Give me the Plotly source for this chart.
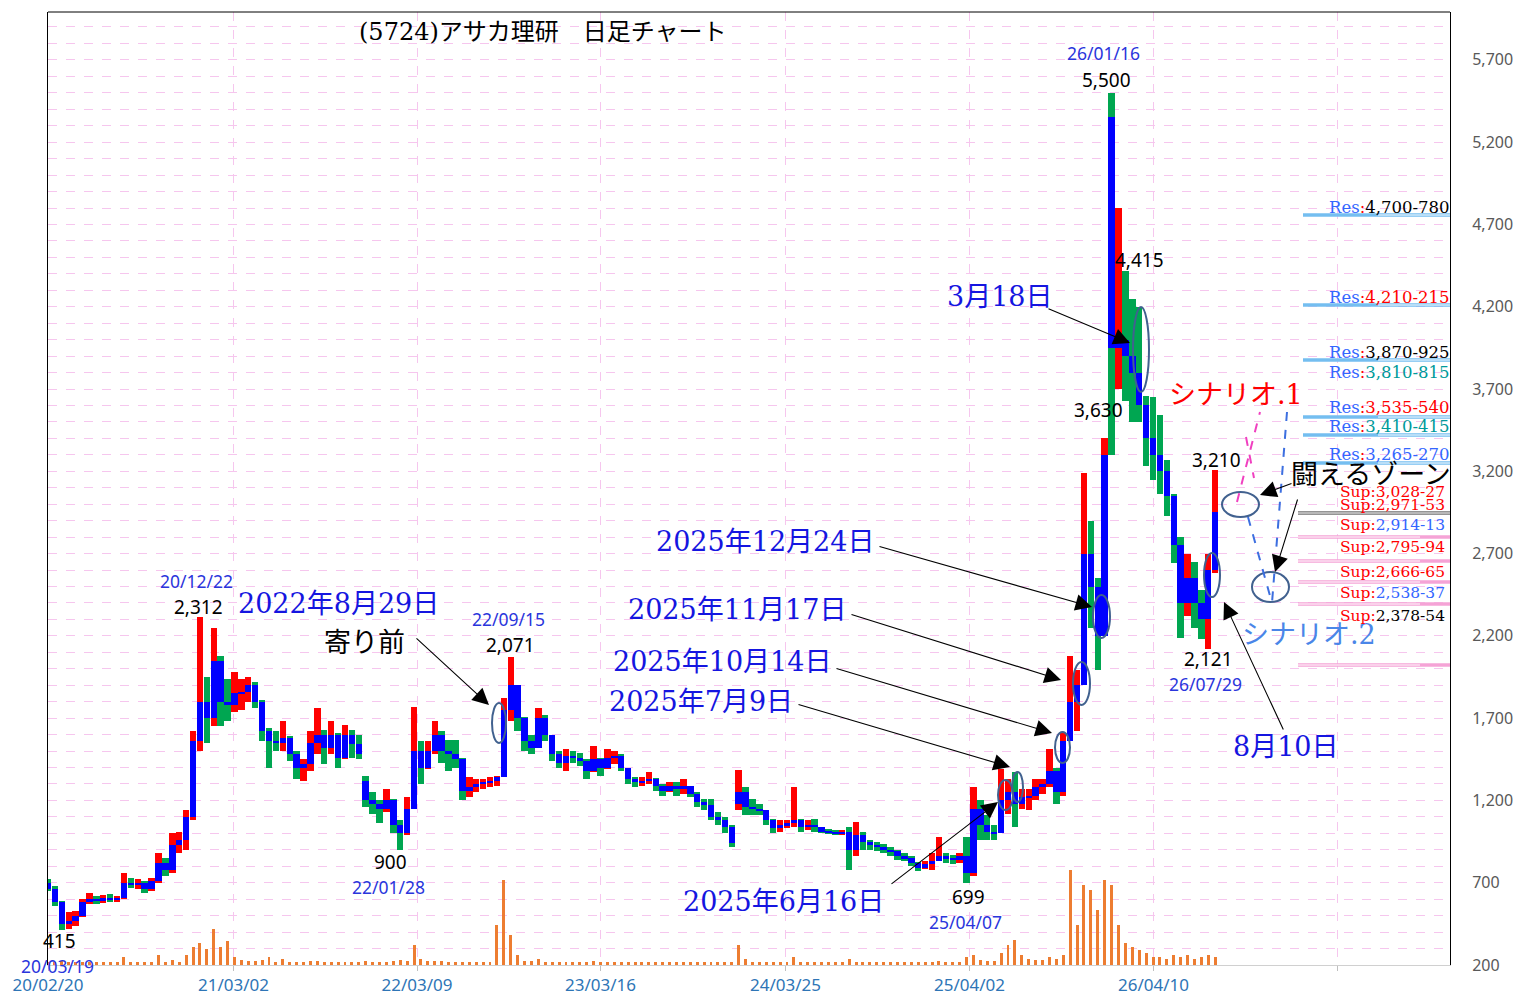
import plotly.graph_objects as go
import pandas as pd

# ---------------- DATA ----------------
start_date = "2020-02-20"          # first candle, one candle every 14 days

opens = [
    700, 660, 580, 450, 470, 500, 580, 600, 590, 605,
    600, 610, 700, 690, 700, 660, 710, 820, 780, 930,
    960, 1100, 1560, 1800, 1700, 2050, 1800, 1780, 1850, 1860,
    1900, 1800, 1620, 1560, 1550, 1580, 1480, 1400, 1420, 1550,
    1600, 1520, 1600, 1460, 1600, 1540, 1320, 1200, 1180, 1150,
    1200, 1050, 1000, 1150, 1500, 1400, 1500, 1600, 1500, 1480,
    1450, 1260, 1280, 1300, 1310, 1320, 1340, 1750, 1900, 1700,
    1560, 1520, 1700, 1600, 1480, 1430, 1470, 1460, 1440, 1380,
    1450, 1400, 1460, 1470, 1400, 1330, 1310, 1320, 1330, 1290,
    1260, 1290, 1270, 1290, 1240, 1190, 1170, 1100, 1080, 1040,
    1180, 1250, 1160, 1150, 1140, 1080, 1030, 1050, 1060, 1080,
    1040, 1050, 1040, 1010, 1005, 1000, 1010, 900, 990, 950,
    930, 920, 900, 890, 860, 850, 820, 790, 815, 830,
    860, 850, 840, 860, 760, 1150, 1050, 1010, 1000, 1200,
    1250, 1180, 1220, 1230, 1280, 1300, 1380, 1250, 1560, 1800,
    1900, 2700, 2500, 2200, 5350, 3950, 4000, 3900, 3800, 3600,
    3400, 3300, 3200, 3050, 2750, 2400, 2550, 2400, 2300, 2600,
]
highs = [
    720, 680, 590, 520, 530, 600, 640, 620, 625, 630,
    620, 760, 730, 720, 710, 730, 880, 850, 1000, 1010,
    1140, 1620, 2312, 1950, 2250, 2080, 1940, 1980, 1940, 1950,
    1920, 1810, 1640, 1620, 1680, 1590, 1500, 1450, 1620, 1760,
    1630, 1680, 1610, 1660, 1630, 1600, 1350, 1250, 1200, 1270,
    1210, 1080, 1220, 1770, 1560, 1560, 1680, 1620, 1570, 1570,
    1460, 1340, 1330, 1330, 1345, 1350, 1820, 2071, 1900, 1710,
    1600, 1760, 1720, 1600, 1500, 1510, 1500, 1490, 1450, 1530,
    1460, 1510, 1500, 1480, 1400, 1345, 1340, 1370, 1335, 1300,
    1310, 1310, 1330, 1290, 1250, 1210, 1210, 1130, 1100, 1050,
    1385, 1280, 1210, 1180, 1140, 1090, 1080, 1080, 1280, 1090,
    1080, 1085, 1040, 1025, 1020, 1020, 1040, 1070, 1010, 960,
    945, 935, 920, 900, 880, 860, 825, 830, 880, 980,
    880, 870, 880, 980, 1280, 1200, 1110, 1050, 1390, 1330,
    1370, 1270, 1270, 1330, 1330, 1510, 1400, 1610, 2080, 1990,
    3190, 2900, 2550, 3400, 5500, 4800, 4415, 4250, 4200, 3660,
    3650, 3540, 3270, 3060, 2800, 2700, 2650, 2480, 2700, 3210,
]
lows = [
    650, 560, 415, 420, 440, 490, 570, 570, 575, 585,
    580, 600, 670, 660, 640, 650, 700, 740, 760, 880,
    900, 1080, 1500, 1550, 1650, 1650, 1680, 1740, 1750, 1800,
    1760, 1560, 1400, 1500, 1500, 1440, 1330, 1320, 1380, 1480,
    1420, 1480, 1400, 1450, 1460, 1450, 1160, 1120, 1060, 1130,
    1000, 900, 990, 1150, 1300, 1390, 1480, 1430, 1380, 1400,
    1200, 1220, 1250, 1270, 1280, 1290, 1340, 1680, 1620, 1500,
    1480, 1520, 1560, 1440, 1400, 1380, 1430, 1410, 1330, 1370,
    1350, 1390, 1420, 1380, 1300, 1280, 1290, 1300, 1260, 1230,
    1250, 1230, 1240, 1220, 1160, 1140, 1080, 1050, 1000, 920,
    1140, 1110, 1110, 1110, 1050, 1000, 1010, 1030, 1040, 1010,
    1020, 1010, 1000, 995, 990, 990, 780, 860, 900, 900,
    895, 880, 860, 840, 835, 800, 770, 785, 780, 830,
    820, 815, 820, 699, 740, 960, 960, 960, 1000, 1120,
    1040, 1150, 1140, 1200, 1240, 1280, 1180, 1230, 1560, 1620,
    1900, 2250, 1990, 2200, 3300, 3700, 3630, 3500, 3500, 3230,
    3150, 3060, 2930, 2640, 2190, 2320, 2250, 2180, 2121, 2580,
]
closes = [
    660, 580, 450, 470, 500, 580, 600, 590, 605, 600,
    610, 700, 690, 700, 660, 710, 820, 780, 930, 960,
    1100, 1560, 1800, 1700, 2050, 1800, 1780, 1850, 1860, 1900,
    1800, 1620, 1560, 1550, 1580, 1480, 1400, 1420, 1550, 1600,
    1520, 1600, 1460, 1600, 1540, 1480, 1200, 1180, 1150, 1200,
    1050, 1000, 1150, 1500, 1400, 1500, 1600, 1500, 1480, 1450,
    1260, 1280, 1300, 1310, 1320, 1340, 1750, 1900, 1700, 1560,
    1520, 1700, 1600, 1480, 1430, 1470, 1460, 1440, 1380, 1450,
    1400, 1460, 1470, 1400, 1330, 1310, 1320, 1330, 1290, 1260,
    1290, 1270, 1290, 1240, 1190, 1170, 1100, 1080, 1040, 940,
    1250, 1160, 1150, 1140, 1080, 1030, 1050, 1060, 1080, 1040,
    1050, 1040, 1010, 1005, 1000, 1010, 900, 990, 950, 930,
    920, 900, 890, 860, 850, 820, 790, 815, 830, 860,
    850, 840, 860, 760, 1150, 1050, 1010, 1000, 1200, 1250,
    1180, 1220, 1230, 1280, 1300, 1380, 1250, 1560, 1800, 1900,
    2700, 2500, 2200, 3300, 3950, 4000, 3900, 3800, 3600, 3400,
    3300, 3200, 3050, 2750, 2400, 2550, 2400, 2300, 2600, 2950,
]
volumes = [
    3, 3, 4, 3, 3, 3, 3, 3, 3, 3,
    3, 8, 3, 3, 3, 3, 10, 3, 5, 3,
    10, 18, 22, 16, 36, 18, 24, 8, 5, 4,
    4, 5, 8, 3, 6, 3, 3, 3, 4, 4,
    3, 3, 3, 3, 3, 3, 4, 3, 3, 3,
    4, 5, 4, 20, 6, 4, 4, 4, 3, 3,
    3, 3, 3, 3, 3, 40, 85, 30, 10, 4,
    4, 6, 3, 3, 3, 3, 3, 3, 3, 4,
    3, 3, 3, 3, 3, 3, 3, 3, 3, 3,
    3, 3, 3, 3, 3, 3, 3, 3, 3, 3,
    20, 6, 3, 3, 3, 3, 3, 3, 8, 3,
    3, 3, 3, 3, 3, 3, 6, 3, 3, 3,
    3, 3, 3, 3, 3, 3, 3, 3, 3, 4,
    3, 3, 3, 8, 10, 5, 4, 4, 12, 20,
    25, 10, 6, 5, 5, 8, 6, 10, 95, 40,
    80, 75, 55, 85, 80, 40, 22, 18, 15, 12,
    8, 8, 6, 10, 8, 10, 6, 8, 10, 8,
]

x_tick_dates = ["2020-02-20", "2021-03-02", "2022-03-09", "2023-03-16",
                "2024-03-25", "2025-04-02", "2026-04-10", "2027-04-18"]
x_tick_text = ["20/02/20", "21/03/02", "22/03/09", "23/03/16",
               "24/03/25", "25/04/02", "26/04/10", ""]

res_texts = ["4,700-780", "4,210-215", "3,870-925", "3,810-815",
             "3,535-540", "3,410-415", "3,265-270"]
res_text_colors = ["#000000", "#FF0000", "#000000", "#009A9A",
                   "#FF0000", "#009A9A", "#3366FF"]
sup_texts = ["3,028-27", "2,971-53", "2,914-13", "2,795-94",
             "2,666-65", "2,538-37", "2,378-54"]
sup_text_colors = ["#FF0000", "#FF0000", "#3366FF", "#FF0000",
                   "#FF0000", "#3366FF", "#000000"]

# ---------------- LAYOUT HELPERS ----------------
W, H = 1526, 997
PL, PR, PT, PB = 48, 1450, 12, 965   # plot-area edges in page pixels


def fx(px):
    return (px - PL) / (PR - PL)


def fy(py):
    return (PB - py) / (PB - PT)


SERIF = "DejaVu Serif, Noto Sans CJK JP, serif"
SANS = "Noto Sans, Noto Sans CJK JP, sans-serif"
DAY = 86400000

dates = pd.date_range(start_date, periods=len(closes), freq="14D")
wick_colors = ["#FF0000" if c >= o else "#00A651" for o, c in zip(opens, closes)]
body_base = [min(o, c) for o, c in zip(opens, closes)]
body_len = [abs(c - o) for o, c in zip(opens, closes)]
wick_len = [h - l for h, l in zip(highs, lows)]

fig = go.Figure()
fig.add_trace(go.Bar(x=dates, y=volumes, yaxis="y2", width=6 * DAY,
                     marker=dict(color="#ED7D31", line=dict(width=0)),
                     hoverinfo="skip"))
fig.add_trace(go.Bar(x=dates, y=wick_len, base=lows, width=13 * DAY,
                     marker=dict(color=wick_colors, line=dict(width=0))))
fig.add_trace(go.Bar(x=dates, y=body_len, base=body_base, width=13 * DAY,
                     marker=dict(color="#0000FF", line=dict(width=0))))

ann = []


def text(px, py, t, size, color, family, xanchor="center"):
    ann.append(dict(xref="paper", yref="paper", x=fx(px), y=fy(py), text=t,
                    showarrow=False, xanchor=xanchor, yanchor="middle",
                    font=dict(size=size, color=color, family=family)))


def arrow(sx, sy, tx, ty):
    ann.append(dict(xref="paper", yref="paper", x=fx(tx), y=fy(ty), text="",
                    showarrow=True, ax=sx - tx, ay=sy - ty, axref="pixel",
                    ayref="pixel", arrowhead=2, arrowsize=3, arrowwidth=1.1,
                    arrowcolor="#000000", standoff=0))


# title
text(543, 32, "(5724)アサカ理研　日足チャート", 24, "#000000", SERIF)

# price / date labels
BL = "#2A35DC"
for px, py, t, c, s in [
    (1103, 53, "26/01/16", BL, 17.5), (1106, 80, "5,500", "#000000", 19),
    (1139, 260, "4,415", "#000000", 19), (1098, 410, "3,630", "#000000", 19),
    (1216, 460, "3,210", "#000000", 19), (1208, 659, "2,121", "#000000", 19),
    (1205, 684, "26/07/29", BL, 17.5), (196, 581, "20/12/22", BL, 17.5),
    (198, 607, "2,312", "#000000", 19), (508, 619, "22/09/15", BL, 17.5),
    (510, 645, "2,071", "#000000", 19), (390, 862, "900", "#000000", 19),
    (388, 887, "22/01/28", BL, 17.5), (968, 897, "699", "#000000", 19),
    (966, 922, "25/04/07", BL, 17.5), (59, 941, "415", "#000000", 19),
    (57, 966, "20/03/19", BL, 17.5),
]:
    text(px, py, t, s, c, SANS)

# big annotations
BIG = "#1515E0"
for px, py, t, c in [
    (338, 603, "2022年8月29日", BIG), (364, 642, "寄り前", "#000000"),
    (1000, 296, "3月18日", BIG), (765, 541, "2025年12月24日", BIG),
    (737, 609, "2025年11月17日", BIG), (722, 661, "2025年10月14日", BIG),
    (701, 701, "2025年7月9日", BIG), (783, 901, "2025年6月16日", BIG),
    (1286, 746, "8月10日", BIG), (1236, 394, "シナリオ.1", "#FF0000"),
    (1309, 634, "シナリオ.2", "#4A86E8"), (1371, 474, "闘えるゾーン", "#000000"),
]:
    text(px, py, t, 27, c, SERIF)

# arrows
for sx, sy, tx, ty in [
    (415, 637, 489, 705), (1047, 308, 1130, 343), (878, 546, 1092, 607),
    (850, 614, 1061, 680), (835, 668, 1052, 733), (797, 704, 1010, 767),
    (890, 885, 998, 802), (1284, 731, 1224, 602), (1293, 483, 1260, 495),
    (1298, 498, 1275, 572),
]:
    arrow(sx, sy, tx, ty)

# Res / Sup labels
res_label_py = [207, 297, 352, 372, 407, 426, 454]
for t, c, py in zip(res_texts, res_text_colors, res_label_py):
    html = ('<span style="color:#3366FF">Res</span><span style="color:#FF0000">:</span>'
            f'<span style="color:{c}">{t}</span>')
    text(1452, py, html, 16.5, "#000000", SERIF, xanchor="right")
sup_label_py = [492, 505, 525, 547, 572, 593, 616]
for t, c, py in zip(sup_texts, sup_text_colors, sup_label_py):
    html = ('<span style="color:#FF0000">Sup:</span>'
            f'<span style="color:{c}">{t}</span>')
    text(1447, py, html, 15.5, "#000000", SERIF, xanchor="right")

shapes = []


def hline(x0, x1, py, color, width, dash="solid"):
    shapes.append(dict(type="line", xref="paper", yref="paper", x0=fx(x0), x1=fx(x1),
                       y0=fy(py), y1=fy(py), line=dict(color=color, width=width, dash=dash)))


for py in [215, 305, 360, 417, 435, 463]:
    hline(1303, 1450, py, "#74BEF0", 3.5)
    hline(1378, 1450, py, "#FFFFFF", 1)
hline(1298, 1450, 513, "#707070", 3.5)
hline(1298, 1450, 513, "#FFFFFF", 1)
for py in [537, 561, 582, 604, 665]:
    hline(1298, 1450, py, "#F5A3D6", 3.5)
    hline(1298, 1420, py, "#FFFFFF", 1)

# ellipses
for x0, x1, y0, y1 in [
    (492, 506, 703, 743), (998, 1013, 780, 810), (1012, 1023, 772, 802),
    (1055, 1070, 732, 763), (1073, 1090, 662, 705), (1093, 1110, 595, 638),
    (1133, 1149, 307, 392), (1204, 1220, 553, 597), (1222, 1259, 492, 517),
    (1252, 1289, 572, 602),
]:
    shapes.append(dict(type="circle", xref="paper", yref="paper", x0=fx(x0), x1=fx(x1),
                       y0=fy(y1), y1=fy(y0), line=dict(color="#41618F", width=2)))

# scenario dashed lines
for (x0, y0, x1, y1), col in [
    ((1237, 502, 1260, 412), "#F040C0"), ((1246, 437, 1254, 478), "#F040C0"),
    ((1248, 517, 1272, 603), "#3D6FE0"), ((1287, 412, 1272, 603), "#3D6FE0"),
]:
    shapes.append(dict(type="line", xref="paper", yref="paper", x0=fx(x0), y0=fy(y0),
                       x1=fx(x1), y1=fy(y1), line=dict(color=col, width=2, dash="dash")))

# top frame line
shapes.append(dict(type="line", xref="paper", yref="paper", x0=0, x1=1, y0=1, y1=1,
                   line=dict(color="#000000", width=1)))

GRID = "#F6C6EE"
fig.update_layout(
    width=W, height=H,
    margin=dict(l=PL, r=W - PR, t=PT, b=H - PB, pad=0, autoexpand=False),
    plot_bgcolor="#FFFFFF", paper_bgcolor="#FFFFFF",
    barmode="overlay", bargap=0, showlegend=False,
    annotations=ann, shapes=shapes,
    xaxis=dict(type="date", range=["2020-02-20", "2027-12-02"], automargin=False,
               tickmode="array", tickvals=x_tick_dates, ticktext=x_tick_text,
               tickfont=dict(size=17, color="#2E75B6", family=SANS),
               showgrid=True, gridcolor=GRID, griddash="dash", gridwidth=1,
               ticks="outside", ticklen=5, tickcolor="#BFBFBF",
               showline=True, linecolor="#D0D0D0", zeroline=False),
    yaxis=dict(range=[200, 5991], side="right", tickmode="linear", tick0=200, dtick=500,
               automargin=False,
               tickformat=",d", tickfont=dict(size=16, color="#595959", family=SANS),
               showgrid=True, gridcolor=GRID, griddash="dash", gridwidth=1,
               minor=dict(dtick=100, tick0=200, showgrid=True, gridcolor=GRID,
                          griddash="dash", gridwidth=1),
               showline=True, linecolor="#000000", mirror=True, zeroline=False,
               ticks="", ticklabelstandoff=18),
    yaxis2=dict(range=[0, 953], overlaying="y", visible=False, automargin=False),
)

fig.write_html("out.html", config={"displayModeBar": False},
               post_script="document.body.style.margin='0px';")
